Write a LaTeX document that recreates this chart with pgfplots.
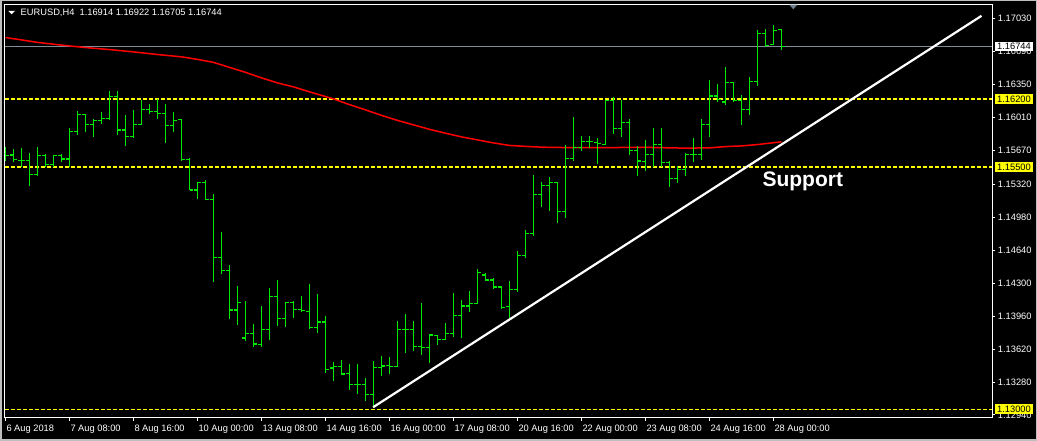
\documentclass[border=0pt]{standalone}
\usepackage{pgfplots}
\pgfplotsset{compat=1.18}
\usepackage{pgfplotstable}
\usepackage{fontspec}
\setmainfont{Liberation Sans}
\definecolor{barg}{RGB}{0,235,0}
\definecolor{mared}{RGB}{255,0,0}
\definecolor{dashy}{RGB}{255,255,0}
\definecolor{boxy}{RGB}{255,255,0}
\definecolor{pricegrey}{RGB}{130,140,150}
\definecolor{trigrey}{RGB}{110,125,140}
\definecolor{framegrey}{RGB}{190,190,190}

\pgfplotstableread{
i o h l c
0 1.15641 1.15703 1.15561 1.15616
1 1.15623 1.15685 1.15548 1.15572
2 1.15569 1.15699 1.15500 1.15569
3 1.15569 1.15644 1.15300 1.15424
4 1.15424 1.15706 1.15404 1.15613
5 1.15613 1.15631 1.15500 1.15527
6 1.15527 1.15623 1.15500 1.15613
7 1.15613 1.15631 1.15548 1.15582
8 1.15582 1.15899 1.15500 1.15864
9 1.15864 1.16077 1.15830 1.16036
10 1.16036 1.16050 1.15864 1.15933
11 1.15933 1.15992 1.15812 1.15981
12 1.15981 1.16070 1.15940 1.15998
13 1.16002 1.16287 1.15988 1.16225
14 1.16227 1.16284 1.15830 1.15881
15 1.15881 1.16036 1.15716 1.15812
16 1.15812 1.16088 1.15802 1.15940
17 1.15940 1.16191 1.15936 1.16095
18 1.16095 1.16150 1.16047 1.16074
19 1.16074 1.16198 1.15998 1.16054
20 1.16054 1.16150 1.15750 1.15923
21 1.15923 1.16067 1.15861 1.15977
22 1.15985 1.15992 1.15561 1.15572
23 1.15572 1.15589 1.15257 1.15262
24 1.15262 1.15345 1.15172 1.15342
25 1.15342 1.15365 1.15159 1.15166
26 1.15166 1.15221 1.14316 1.14568
27 1.14568 1.14826 1.14392 1.14429
28 1.14429 1.14488 1.13931 1.14024
29 1.14024 1.14272 1.13872 1.14099
30 1.13735 1.14117 1.13707 1.13783
31 1.13783 1.13876 1.13645 1.13673
32 1.13670 1.14065 1.13645 1.13825
33 1.13825 1.14248 1.13714 1.14161
34 1.14161 1.14333 1.13859 1.13938
35 1.13938 1.14106 1.13851 1.14099
36 1.14099 1.14117 1.13944 1.14031
37 1.14031 1.14168 1.14006 1.14021
38 1.14010 1.14292 1.13831 1.13845
39 1.13845 1.14189 1.13790 1.13900
40 1.13900 1.13962 1.13377 1.13412
41 1.13425 1.13484 1.13294 1.13443
42 1.13443 1.13508 1.13356 1.13363
43 1.13371 1.13467 1.13201 1.13257
44 1.13257 1.13467 1.13157 1.13257
45 1.13257 1.13325 1.13085 1.13154
46 1.13154 1.13498 1.13016 1.13433
47 1.13433 1.13549 1.13346 1.13446
48 1.13453 1.13542 1.13360 1.13439
49 1.13439 1.13913 1.13433 1.13825
50 1.13825 1.13982 1.13577 1.13825
51 1.13825 1.13913 1.13604 1.13645
52 1.13645 1.14099 1.13559 1.13639
53 1.13639 1.13779 1.13474 1.13766
54 1.13763 1.13769 1.13666 1.13721
55 1.13721 1.13886 1.13714 1.13783
56 1.13783 1.14196 1.13742 1.13969
57 1.13969 1.14127 1.13732 1.14065
58 1.14065 1.14220 1.14006 1.14093
59 1.14093 1.14450 1.14086 1.14409
60 1.14385 1.14409 1.14323 1.14333
61 1.14333 1.14351 1.14244 1.14261
62 1.14261 1.14264 1.14037 1.14052
63 1.14058 1.14323 1.13944 1.14237
64 1.14237 1.14630 1.14210 1.14588
65 1.14588 1.14849 1.14557 1.14815
66 1.14815 1.15417 1.14791 1.15218
67 1.15218 1.15342 1.15090 1.15311
68 1.15311 1.15393 1.15049 1.15338
69 1.15338 1.15342 1.14919 1.15042
70 1.15042 1.15727 1.14970 1.15589
71 1.15589 1.16012 1.15565 1.15703
72 1.15703 1.15820 1.15668 1.15761
73 1.15761 1.15820 1.15699 1.15761
74 1.15755 1.15796 1.15531 1.15744
75 1.15734 1.16191 1.15727 1.16181
76 1.16181 1.16219 1.15837 1.15899
77 1.15899 1.16191 1.15806 1.15961
78 1.15961 1.15992 1.15620 1.15665
79 1.15665 1.15716 1.15410 1.15561
80 1.15556 1.15778 1.15458 1.15631
81 1.15631 1.15902 1.15503 1.15734
82 1.15734 1.15902 1.15503 1.15548
83 1.15548 1.15561 1.15296 1.15376
84 1.15376 1.15510 1.15338 1.15476
85 1.15476 1.15641 1.15410 1.15631
86 1.15631 1.15799 1.15551 1.15631
87 1.15631 1.15995 1.15572 1.15933
88 1.15933 1.16397 1.15806 1.16232
89 1.16232 1.16356 1.16173 1.16198
90 1.16170 1.16529 1.16139 1.16370
91 1.16370 1.16374 1.16173 1.16181
92 1.16181 1.16243 1.15933 1.16095
93 1.16095 1.16425 1.16036 1.16377
94 1.16377 1.16913 1.16336 1.16872
95 1.16879 1.16921 1.16741 1.16748
96 1.16766 1.16965 1.16759 1.16910
97 1.16914 1.16922 1.16705 1.16744
}\ohlc

\pgfplotstableread{
i ma
0 1.16834
2 1.16810
4 1.16784
7 1.16756
10 1.16731
13 1.16710
16 1.16686
19 1.16659
22 1.16635
24 1.16609
26 1.16578
28 1.16526
30 1.16475
32 1.16418
34 1.16366
36 1.16325
38 1.16274
41 1.16201
43 1.16142
45 1.16088
47 1.16031
49 1.15979
51 1.15933
53 1.15887
55 1.15847
57 1.15809
59 1.15778
61 1.15747
63 1.15721
65 1.15711
67 1.15703
70 1.15699
75 1.15699
80 1.15701
85 1.15693
88 1.15696
90 1.15709
92 1.15716
94 1.15730
96 1.15749
97 1.15758
}\matable

\begin{document}
\begin{tikzpicture}[font=\fontsize{9.3}{11}\selectfont]
\fill[black] (0,0) rectangle (1037pt,441pt);
\draw[framegrey, line width=1.5pt] (0.75pt,0.75pt) rectangle (1036.25pt,440.25pt);
\begin{axis}[
  name=ax,
  at={(4.5pt,23pt)}, anchor=south west,
  scale only axis, width=987.5pt, height=413.5pt,
  xmin=-0.125, xmax=123.3125,
  ymin=1.12909, ymax=1.17175,
  axis line style={white, line width=1pt},
  tick style={white, line width=1pt},
  major tick length=3pt,
  tick align=outside,
  xtick pos=left, ytick pos=right,
  yticklabel pos=right,
  xtick={0,8,16,24,32,40,48,56,64,72,80,88,96},
  xticklabels={6 Aug 2018,7 Aug 08:00,8 Aug 16:00,10 Aug 00:00,13 Aug 08:00,14 Aug 16:00,16 Aug 00:00,17 Aug 08:00,20 Aug 16:00,22 Aug 00:00,23 Aug 08:00,24 Aug 16:00,28 Aug 00:00},
  ytick={1.17030,1.16690,1.16350,1.16010,1.15670,1.15320,1.14980,1.14640,1.14300,1.13960,1.13620,1.13280,1.12940},
  yticklabels={1.17030,1.16690,1.16350,1.16010,1.15670,1.15320,1.14980,1.14640,1.14300,1.13960,1.13620,1.13280,1.12940},
  xticklabel style={anchor=base west, inner sep=0pt, text=white, xshift=0.8pt, yshift=-10.5pt},
  yticklabel style={anchor=west, inner sep=0pt, text=white, xshift=2.7pt},
  every tick label/.append style={font=\fontsize{9.3}{11}\selectfont},
  clip=true,
]
% horizontal levels
\addplot[dashy, line width=1.3pt, dash pattern=on 4pt off 2pt] coordinates {(-0.125,1.162) (123.3125,1.162)};
\addplot[dashy, line width=1.3pt, dash pattern=on 4pt off 2pt] coordinates {(-0.125,1.155) (123.3125,1.155)};
\addplot[dashy, line width=1.3pt, dash pattern=on 4pt off 2pt] coordinates {(-0.125,1.130) (123.3125,1.130)};
\addplot[pricegrey, line width=1pt] coordinates {(-0.125,1.16744) (123.3125,1.16744)};
% moving average
\addplot[mared, line width=1.5pt] table[x=i, y=ma] {\matable};
% OHLC: high-low
\addplot[barg, line width=1.4pt, quiver={u=0, v={\thisrow{h}-\thisrow{l}}}]
  table[x=i, y=l] {\ohlc};
% open ticks
\addplot[barg, line width=1.2pt, quiver={u=-0.38, v=0}]
  table[x=i, y=o] {\ohlc};
% close ticks
\addplot[barg, line width=1.2pt, quiver={u=0.38, v=0}]
  table[x=i, y=c] {\ohlc};
% support trend line
\addplot[white, line width=2.2pt] coordinates {(45.95,1.13020) (122.0,1.17058)};
\node[anchor=base west, inner sep=0pt, text=white, font=\bfseries\fontsize{21}{24}\selectfont] at (axis cs:94.6,1.15296) {Support};
\coordinate (p1) at (axis cs:123.3125,1.16744);
\coordinate (p2) at (axis cs:123.3125,1.162);
\coordinate (p3) at (axis cs:123.3125,1.155);
\coordinate (p4) at (axis cs:123.3125,1.130);
\end{axis}
\node[anchor=base west, inner sep=0pt, text=white] at ([xshift=16pt,yshift=-11.3pt]ax.north west) {EURUSD,H4\ \ 1.16914 1.16922 1.16705 1.16744};
\fill[white] (8.3pt,430pt) -- (15pt,430pt) -- (11.65pt,426.7pt) -- cycle;
\fill[trigrey] (789.3pt,436.3pt) -- (797.3pt,436.3pt) -- (793.3pt,431.7pt) -- cycle;
\node[fill=white, text=black, anchor=west, inner xsep=2pt, inner ysep=0pt, minimum height=9.5pt, xshift=3pt] at (p1) {1.16744};
\node[fill=boxy, text=black, anchor=west, inner xsep=2pt, inner ysep=0pt, minimum height=9.5pt, xshift=3pt] at (p2) {1.16200};
\node[fill=boxy, text=black, anchor=west, inner xsep=2pt, inner ysep=0pt, minimum height=9.5pt, xshift=3pt] at (p3) {1.15500};
\node[fill=boxy, text=black, anchor=west, inner xsep=2pt, inner ysep=0pt, minimum height=9.5pt, xshift=3pt] at (p4) {1.13000};
\end{tikzpicture}
\end{document}
